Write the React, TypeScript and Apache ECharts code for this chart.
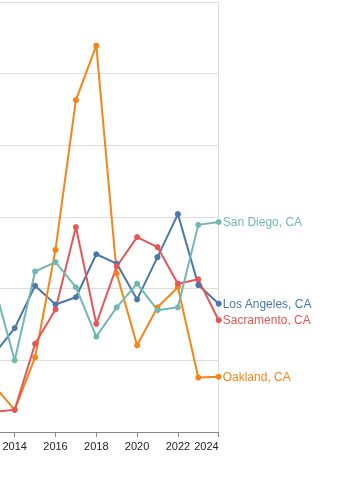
import React, { useEffect, useRef } from "react";
import * as echarts from "echarts";

const years = [2013, 2014, 2015, 2016, 2017, 2018, 2019, 2020, 2021, 2022, 2023, 2024];
const losAngeles = [10.9, 14.5, 20.4, 17.8, 18.8, 24.8, 23.5, 18.5, 24.4, 30.4, 20.5, 17.9];
const oakland = [6.4, 3.1, 10.4, 25.4, 46.3, 53.9, 22.1, 12.1, 17.4, 20.2, 7.6, 7.7];
const sacramento = [2.8, 3.1, 12.3, 17.1, 28.6, 15.1, 23.1, 27.2, 25.8, 20.7, 21.3, 15.6];
const sanDiego = [20.4, 10.0, 22.4, 23.7, 20.2, 13.3, 17.4, 20.7, 17.0, 17.4, 28.9, 29.3];
const seriesNames = ["Los Angeles, CA", "Oakland, CA", "Sacramento, CA", "San Diego, CA"];
const seriesColors = ["#4c78a8", "#f58518", "#e45756", "#72b7b2"];

const SHIFT = 80;

export default function App() {
  const ref = useRef<HTMLDivElement>(null);
  useEffect(() => {
    if (!ref.current) return;
    const chart = echarts.init(ref.current, null, { renderer: "svg" });
    const all = [losAngeles, oakland, sacramento, sanDiego];
    const font = "'Liberation Sans', Arial, Helvetica, sans-serif";
    chart.setOption({
      animation: false,
      textStyle: { fontFamily: font },
      grid: { left: SHIFT - 26.1, right: 132.3, top: 2, bottom: 48, containLabel: false },
      xAxis: {
        type: "value",
        min: 2012,
        max: 2024,
        interval: 2,
        axisLine: { show: true, lineStyle: { color: "#888", width: 1 } },
        axisTick: { show: true, length: 5, lineStyle: { color: "#888" } },
        axisLabel: {
          color: "#222",
          fontSize: 11,
          fontFamily: font,
          margin: 8,
          showMinLabel: false,
          showMaxLabel: true,
          alignMaxLabel: "right",
          hideOverlap: false,
          formatter: (v: number) => String(v),
        },
        splitLine: { show: false },
      },
      yAxis: {
        type: "value",
        min: 0,
        max: 60,
        interval: 10,
        position: "right",
        axisLine: { show: true, lineStyle: { color: "#ddd", width: 1 } },
        axisTick: { show: false },
        axisLabel: { show: false },
        splitLine: { show: true, lineStyle: { color: "#ddd", width: 1 } },
      },
      series: all.map((vals, i) => ({
        name: seriesNames[i],
        type: "line",
        data: years.map((y, j) => [y, vals[j]]),
        symbol: "circle",
        symbolSize: 6,
        showSymbol: true,
        lineStyle: { color: seriesColors[i], width: 2 },
        itemStyle: { color: seriesColors[i] },
        endLabel: {
          show: true,
          formatter: "{a}",
          color: seriesColors[i],
          fontSize: 12,
          fontFamily: font,
          distance: 4,
        },
      })),
    });
    return () => chart.dispose();
  }, []);
  return (
    <div style={{ position: "fixed", left: 0, top: 0, width: 351, height: 480, overflow: "hidden" }}>
      <div
        ref={ref}
        style={{ position: "absolute", left: -SHIFT, top: 0, width: 351 + SHIFT, height: 480 }}
      />
    </div>
  );
}
